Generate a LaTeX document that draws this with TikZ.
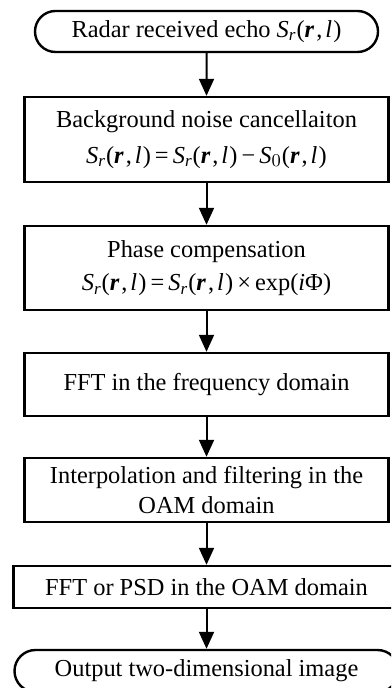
\documentclass[tikz,border=0pt]{standalone}
\usepackage{amsmath}
\usepackage{fontspec}
\setmainfont{Liberation Serif}
\usetikzlibrary{arrows.meta,shapes.misc}
\newcommand{\Sig}[1]{\textit{S}$_{#1}$(\textbf{\textit{r}}\kern0.08em,\kern0.12em\textit{l}\kern0.05em)}
\tikzset{
  boxnode/.style={draw, line width=1.2pt, rectangle, minimum width=182pt, align=center, inner sep=0pt, font=\fontsize{12.2}{14.6}\selectfont},
  termnode/.style={draw, line width=1.2pt, rounded rectangle, rounded rectangle arc length=180, align=center, inner sep=0pt, font=\fontsize{12.2}{14.6}\selectfont},
  arr/.style={line width=1pt, -{Triangle[length=8.5pt,width=7.5pt]}}
}
\begin{document}
\begin{tikzpicture}[x=0.5pt,y=-0.5pt]
\useasboundingbox (0,0) rectangle (391,688);
\clip (0,0) rectangle (391,688);
\node[termnode, minimum width=171.5pt, minimum height=20.5pt] (t1) at (206.5,31.5) {Radar received echo \Sig{\textit{r}}};
\node[boxnode, minimum height=42.5pt] (b2) at (206.5,139.5) {Background noise cancellaiton\\[3.4pt]\Sig{\textit{r}}\,=\,\Sig{\textit{r}}\,−\,\Sig{0}};
\node[boxnode, minimum height=42pt] (b3) at (206.5,268) {Phase compensation\\[2pt]\Sig{\textit{r}}\,=\,\Sig{\textit{r}}\,×\,exp(\textit{i}Φ)};
\node[boxnode, minimum height=31.5pt] (b4) at (206.5,384.5) {FFT in the frequency domain};
\node[boxnode, minimum height=32pt] (b5) at (206.5,490) {Interpolation and filtering in the\\[0pt]OAM domain};
\node[boxnode, minimum width=193pt, minimum height=21pt] (b6) at (206.5,587) {FFT or PSD in the OAM domain};
\node[termnode, minimum width=192pt, minimum height=21pt] (t2) at (206.5,671) {Output two-dimensional image};
\draw[arr] (t1) -- (b2);
\draw[arr] (b2) -- (b3);
\draw[arr] (b3) -- (b4);
\draw[arr] (b4) -- (b5);
\draw[arr] (b5) -- (b6);
\draw[arr] (b6) -- (t2);
\end{tikzpicture}
\end{document}
